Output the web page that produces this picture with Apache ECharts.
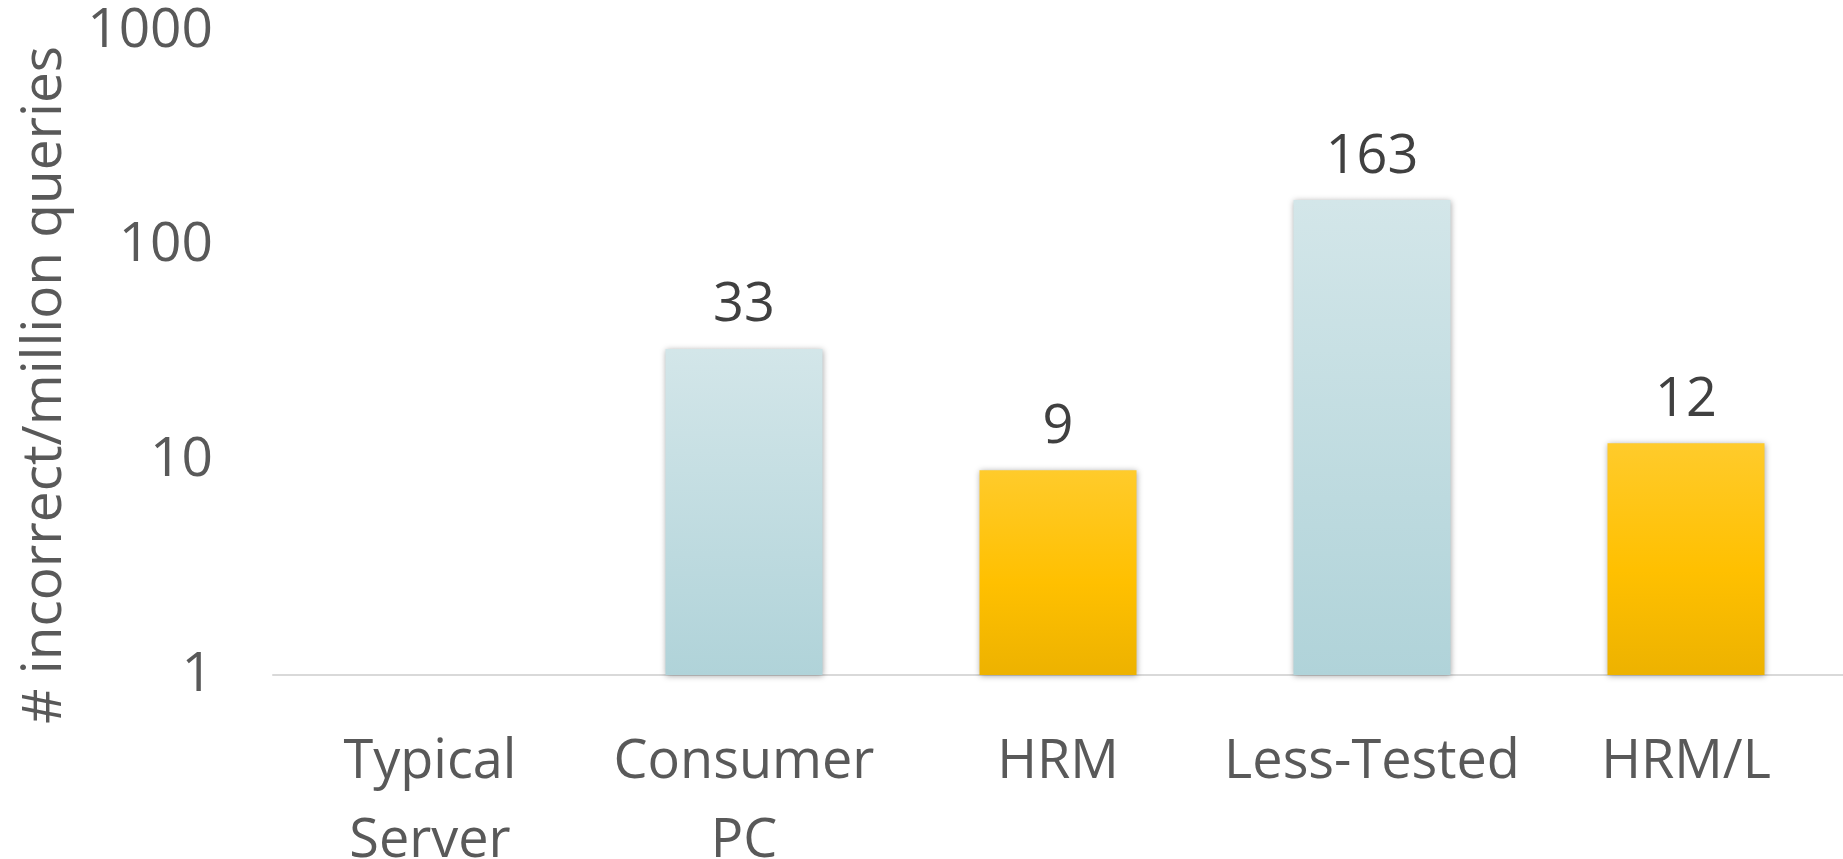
<!DOCTYPE html>
<html>
<head>
<meta charset="utf-8">
<title># incorrect/million queries</title>
<script src="https://cdn.jsdelivr.net/npm/echarts@6/dist/echarts.min.js"></script>
<style>
  html, body { margin: 0; padding: 0; background: #ffffff; }
  #chart { width: 1843px; height: 859px; }
</style>
</head>
<body>
<div id="chart"></div>
<script>
// Memory configurations compared
const categories = ['Typical\nServer', 'Consumer\nPC', 'HRM', 'Less-Tested', 'HRM/L'];
// Incorrect results per million queries (Typical Server: none reported)
const values = [null, 33, 9, 163, 12];
// Which family each configuration belongs to (selects the bar fill)
const kinds = ['conventional', 'conventional', 'hrm', 'conventional', 'hrm'];
// Log-scale tick labels
const yTicks = [1, 10, 100, 1000];
const yTitle = '# incorrect/million queries';

const FONT = '"Open Sans", "Noto Sans", sans-serif';

const fills = {
  conventional: new echarts.graphic.LinearGradient(0, 0, 0, 1, [
    { offset: 0, color: '#D3E6E9' },
    { offset: 1, color: '#B0D3D9' }
  ]),
  hrm: new echarts.graphic.LinearGradient(0, 0, 0, 1, [
    { offset: 0, color: '#FFCB2B' },
    { offset: 0.55, color: '#FFC000' },
    { offset: 1, color: '#EDB200' }
  ])
};

const chart = echarts.init(document.getElementById('chart'), null, { renderer: 'canvas' });

chart.setOption({
  animation: false,
  backgroundColor: '#ffffff',
  grid: {
    left: 273, right: 0, top: 31, bottom: 184,
    containLabel: false,
    outerBoundsMode: 'none'
  },
  // Vertical axis title, placed a little below the plot's middle
  graphic: [{
    type: 'text',
    x: 45,
    y: 385,
    rotation: Math.PI / 2,
    style: {
      text: yTitle,
      fill: '#595959',
      font: '55px ' + FONT,
      align: 'center',
      verticalAlign: 'middle'
    }
  }],
  xAxis: {
    type: 'category',
    data: categories,
    axisLine: { show: true, lineStyle: { color: '#D9D9D9', width: 2 } },
    axisTick: { show: false },
    axisLabel: {
      color: '#595959',
      fontFamily: FONT,
      fontSize: 54,
      lineHeight: 79,
      margin: 48,
      interval: 0
    }
  },
  yAxis: {
    type: 'log',
    logBase: 10,
    min: yTicks[0],
    max: yTicks[yTicks.length - 1],
    axisLine: { show: false },
    axisTick: { show: false },
    splitLine: { show: false },
    axisLabel: {
      color: '#595959',
      fontFamily: FONT,
      fontSize: 55,
      margin: 60,
      formatter: v => yTicks.includes(Math.round(v)) ? String(Math.round(v)) : ''
    }
  },
  series: [{
    type: 'bar',
    barWidth: '50%',
    data: values.map((v, i) => ({
      value: v,
      itemStyle: {
        color: fills[kinds[i]],
        shadowColor: 'rgba(0,0,0,0.35)',
        shadowBlur: 6,
        shadowOffsetY: 1
      }
    })),
    label: {
      show: true,
      position: 'top',
      distance: 16,
      color: '#404040',
      fontFamily: FONT,
      fontSize: 54,
      formatter: p => (p.value == null ? '' : String(p.value))
    }
  }]
});
</script>
</body>
</html>
